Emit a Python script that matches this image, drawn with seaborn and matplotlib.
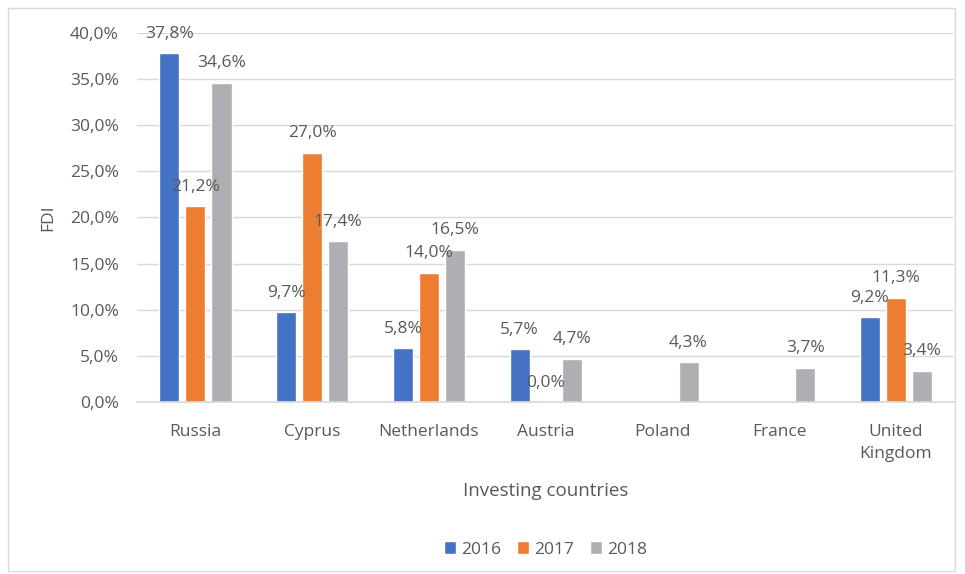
import numpy as np
import pandas as pd
import seaborn as sns
import matplotlib.pyplot as plt
from matplotlib.patches import Rectangle
from matplotlib.ticker import FuncFormatter

# Data (share of FDI, %)
countries = ["Russia", "Cyprus", "Netherlands", "Austria", "Poland", "France", "United\nKingdom"]
years = ["2016", "2017", "2018"]
fdi_2016 = [37.8, 9.7, 5.8, 5.7, np.nan, np.nan, 9.2]
fdi_2017 = [21.2, 27.0, 14.0, 0.0, np.nan, np.nan, 11.3]
fdi_2018 = [34.6, 17.4, 16.5, 4.7, 4.3, 3.7, 3.4]

# Long-form table for seaborn
rows = []
for year, values in zip(years, [fdi_2016, fdi_2017, fdi_2018]):
    for country, v in zip(countries, values):
        rows.append({"Country": country, "Year": year, "FDI": v})
df = pd.DataFrame(rows)

sns.set_theme(style="white")
plt.rcParams['font.family'] = ['Open Sans', 'DejaVu Sans']
text_color = "#595959"
palette = ["#4472C4", "#ED7D31", "#AEAFB2"]

fig = plt.figure(figsize=(9.65, 5.74), dpi=100)
ax = fig.add_axes([0.142, 0.2997, 0.847, 0.6428])

sns.barplot(data=df, x="Country", y="FDI", hue="Year", order=countries, hue_order=years,
            palette=palette, width=0.67, gap=0.23, saturation=1, ax=ax)

# Value labels above each bar
for container in ax.containers:
    for bar in container:
        h = bar.get_height()
        if np.isnan(h):
            continue
        ax.annotate(f"{h:.1f}%".replace(".", ","),
                    (bar.get_x() + bar.get_width() / 2, h),
                    xytext=(0, 14), textcoords="offset points",
                    ha="center", va="center", fontsize=12.5, color=text_color)

ax.set_ylim(0, 40)
ax.set_xlim(-0.5, len(countries) - 0.5)
ax.set_yticks(np.arange(0, 41, 5))
ax.yaxis.set_major_formatter(FuncFormatter(lambda v, p: f"{v:.1f}%".replace(".", ",")))
ax.grid(True, axis="y", color="#D9D9D9", linewidth=1)
ax.set_axisbelow(True)
for side in ["top", "right", "left"]:
    ax.spines[side].set_visible(False)
ax.spines["bottom"].set_color("#D9D9D9")
ax.tick_params(axis="both", length=0, labelsize=12.5, colors=text_color)
ax.tick_params(axis="y", pad=13)
ax.tick_params(axis="x", pad=16)
for lbl in ax.get_xticklabels():
    lbl.set_linespacing(1.5)

ax.set_xlabel("Investing countries", fontsize=13.5, color=text_color, labelpad=14)
ax.set_ylabel("FDI", fontsize=12.5, color=text_color, labelpad=10)

ax.legend(loc="center", bbox_to_anchor=(0.5, -0.4), ncol=3, frameon=False,
          fontsize=12.5, handlelength=0.7, handleheight=0.7, handletextpad=0.3,
          columnspacing=0.9, labelcolor=text_color)

# Light frame around the whole chart
fig.patches.append(Rectangle((0.008, 0.006), 0.982, 0.98, transform=fig.transFigure,
                             fill=False, edgecolor="#D9D9D9", linewidth=1))

plt.savefig("out.png", dpi=100)
